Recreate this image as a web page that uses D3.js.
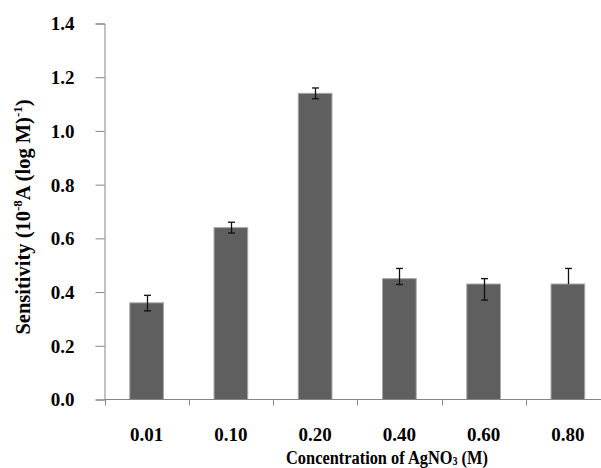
<!DOCTYPE html>
<html><head><meta charset="utf-8">
<script src="https://cdn.jsdelivr.net/npm/d3@7"></script>
<style>body{margin:0;background:#fff}svg{display:block}
.t{font-family:"Liberation Serif","DejaVu Serif","Noto Serif","Times New Roman",Times,serif;font-weight:bold;fill:#000}</style>
</head><body>
<svg id="c" width="601" height="468"></svg>
<script>
const categories = ["0.01","0.10","0.20","0.40","0.60","0.80"];
const values = [0.36, 0.64, 1.14, 0.45, 0.43, 0.43];
const errUp = [0.028, 0.02, 0.02, 0.038, 0.02, 0.058];
const errDown = [0.03, 0.02, 0.02, 0.022, 0.06, 0.0];
const yTicks = [0, 0.2, 0.4, 0.6, 0.8, 1.0, 1.2, 1.4];

const svg = d3.select("#c");
const x0 = 104.5, x1 = 610, yb = 399.5, yt = 23.5;
const x = d3.scaleBand().domain(categories).range([x0, x1]).paddingInner(0.6).paddingOuter(0.3);
const xb = d3.scaleBand().domain(categories).range([x0, x1]);
const y = d3.scaleLinear().domain([0, 1.4]).range([yb, yt]);

// y axis
const ya = svg.append("g").attr("transform", `translate(${x0},0)`)
  .call(d3.axisLeft(y).tickValues(yTicks).tickFormat(d3.format(".1f")).tickSize(9).tickPadding(21));
ya.attr("font-family", null);
ya.select(".domain").attr("stroke", "#858585");
ya.selectAll(".tick line").attr("stroke", "#858585");
ya.selectAll(".tick text").attr("class", "t").attr("font-size", 19).attr("dy", "0.34em");

// bars
svg.append("g").selectAll("rect").data(values).join("rect")
  .attr("x", (d, i) => x(categories[i]))
  .attr("width", x.bandwidth())
  .attr("y", d => y(d))
  .attr("height", d => yb - y(d))
  .attr("fill", "#5f5f5f").attr("stroke", "#a8a8a8").attr("stroke-width", 1);

// x axis
const xa = svg.append("g").attr("transform", `translate(0,${yb})`);
xa.append("line").attr("x1", x0).attr("x2", x1).attr("stroke", "#858585");
xa.selectAll("line.k").data(d3.range(categories.length + 1)).join("line").attr("class", "k")
  .attr("x1", i => Math.round(x0 + i * xb.step()) + 0.5).attr("x2", i => Math.round(x0 + i * xb.step()) + 0.5)
  .attr("y1", 0).attr("y2", 6).attr("stroke", "#858585");
xa.selectAll("text").data(categories).join("text").attr("class", "t")
  .attr("x", d => xb(d) + xb.bandwidth() / 2).attr("y", 41.5)
  .attr("text-anchor", "middle").attr("font-size", 19).text(d => d);

// error bars
const eb = svg.append("g").attr("stroke", "#111").attr("stroke-width", 1.3);
values.forEach((v, i) => {
  const cx = Math.round(x(categories[i]) + x.bandwidth() / 2) + 0.5;
  const top = y(v + errUp[i]), bot = y(v - errDown[i]);
  eb.append("line").attr("x1", cx).attr("x2", cx).attr("y1", top).attr("y2", bot);
  eb.append("line").attr("x1", cx - 3.5).attr("x2", cx + 3.5).attr("y1", top).attr("y2", top);
  if (errDown[i] > 0) eb.append("line").attr("x1", cx - 3.5).attr("x2", cx + 3.5).attr("y1", bot).attr("y2", bot);
});

// axis titles
const xt = svg.append("g").attr("transform", "translate(387,463.5) scale(0.84,1)")
  .append("text").attr("class", "t").attr("text-anchor", "middle").attr("font-size", 19.5);
xt.append("tspan").text("Concentration of AgNO");
xt.append("tspan").attr("font-size", 12).attr("dy", 1.5).text("3");
xt.append("tspan").attr("dy", -1.5).text(" (M)");

const yt2 = svg.append("text").attr("class", "t").attr("transform", "translate(30,217) rotate(-90)").attr("text-anchor", "middle")
  .attr("font-size", 20.5);
yt2.append("tspan").text("Sensitivity (10");
yt2.append("tspan").attr("font-size", 13).attr("dy", -8).text("-8");
yt2.append("tspan").attr("dy", 8).text("A (log M)");
yt2.append("tspan").attr("font-size", 13).attr("dy", -8).text("-1");
yt2.append("tspan").attr("dy", 8).text(")");
</script>
</body></html>
